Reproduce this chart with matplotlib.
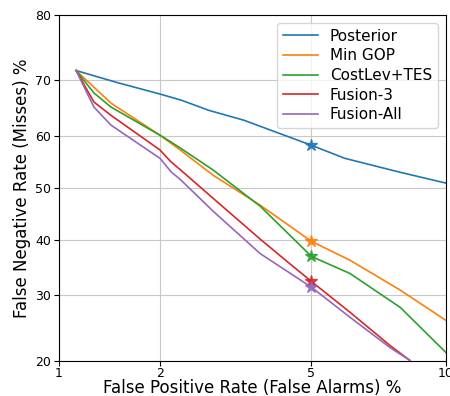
import math
import numpy as np
import matplotlib
matplotlib.use('Agg')
import matplotlib.pyplot as plt
from matplotlib.ticker import FixedLocator, FixedFormatter, NullLocator

# DET curves, values in percent (false positive %, false negative %)
posterior_fp = [1.13, 1.5, 2.0, 2.3, 2.73, 3.38, 5.0, 6.0, 8.0, 10.0]
posterior_fn = [71.6, 69.6, 67.6, 66.5, 64.7, 62.9, 58.2, 55.7, 53.0, 50.9]

mingop_fp = [1.13, 1.28, 1.44, 2.0, 2.29, 2.81, 3.73, 5.0, 6.17, 8.0, 10.0]
mingop_fn = [71.6, 68.8, 66.0, 60.1, 57.2, 52.4, 46.6, 39.7, 36.2, 30.9, 25.9]

costlev_fp = [1.13, 1.28, 1.44, 2.0, 2.15, 2.29, 2.81, 3.73, 5.0, 6.17, 8.0, 10.0]
costlev_fn = [71.6, 67.8, 65.3, 60.1, 58.8, 57.6, 53.4, 46.4, 36.9, 33.8, 28.0, 21.1]

fusion3_fp = [1.13, 1.28, 1.44, 2.0, 2.15, 2.29, 2.81, 3.73, 4.32, 5.0, 6.17, 7.6, 8.4]
fusion3_fn = [71.6, 66.2, 63.8, 57.3, 55.0, 53.4, 47.9, 40.1, 36.2, 32.4, 27.2, 22.1, 20.0]

fusionall_fp = [1.13, 1.28, 1.44, 2.0, 2.15, 2.29, 2.81, 3.73, 5.0, 6.17, 7.6, 8.4]
fusionall_fn = [71.6, 65.3, 62.0, 55.7, 53.1, 51.5, 45.4, 37.4, 31.4, 26.4, 21.8, 20.0]

# operating points at 5% false alarms
star_fp = 5.0
star_fn = [58.2, 39.7, 36.9, 32.4, 31.4]

labels = ['Posterior', 'Min GOP', 'CostLev+TES', 'Fusion-3', 'Fusion-All']
series = [(posterior_fp, posterior_fn), (mingop_fp, mingop_fn),
          (costlev_fp, costlev_fn), (fusion3_fp, fusion3_fn),
          (fusionall_fp, fusionall_fn)]

ticks_x = [1, 2, 5, 10]
ticks_y = [20, 30, 40, 50, 60, 70, 80]

# normal deviate (probit) scale, via a lookup table of the normal cdf
_z = np.linspace(-6, 6, 24001)
_cdf = 0.5 * (1 + np.array([math.erf(v / math.sqrt(2)) for v in _z]))


def probit(pct):
    return np.interp(np.asarray(pct, float) / 100.0, _cdf, _z)


def inv_probit(z):
    return 100.0 * np.interp(np.asarray(z, float), _z, _cdf)


fig = plt.figure(figsize=(4.5, 3.96), dpi=100)
ax = fig.add_axes([59 / 450, 35.5 / 396, 387 / 450, 345.5 / 396])
ax.set_xscale('function', functions=(probit, inv_probit))
ax.set_yscale('function', functions=(probit, inv_probit))

for i, (label, (x, y)) in enumerate(zip(labels, series)):
    color = 'C%d' % i
    ax.plot(x, y, color=color, lw=1.2, label=label)
    ax.plot(star_fp, star_fn[i], '*', color=color, ms=9, alpha=0.85)

ax.set_xlim(1, 10)
ax.set_ylim(20, 80)
ax.xaxis.set_major_locator(FixedLocator(ticks_x))
ax.xaxis.set_major_formatter(FixedFormatter([str(t) for t in ticks_x]))
ax.yaxis.set_major_locator(FixedLocator(ticks_y))
ax.yaxis.set_major_formatter(FixedFormatter([str(t) for t in ticks_y]))
ax.xaxis.set_minor_locator(NullLocator())
ax.yaxis.set_minor_locator(NullLocator())
ax.tick_params(labelsize=9, pad=2)
ax.tick_params(axis='x', pad=1.5)
ax.grid(True, color='#c8c8c8', lw=0.8)

ax.set_xlabel('False Positive Rate (False Alarms) %', fontsize=12, labelpad=-1)
ax.set_ylabel('False Negative Rate (Misses) %', fontsize=12, labelpad=3)
ax.legend(loc='upper right', fontsize=11, labelspacing=0.3, handlelength=2.3,
          borderaxespad=0.5)

fig.savefig('out.png', dpi=100)
